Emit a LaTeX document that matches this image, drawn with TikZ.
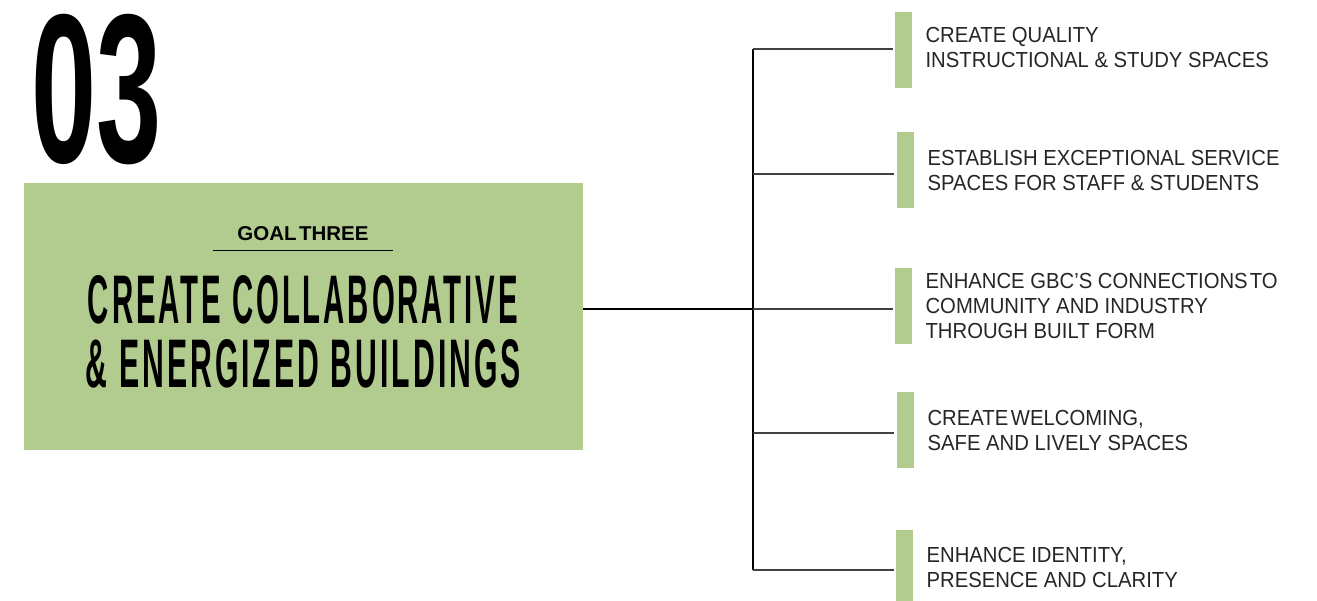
\documentclass[tikz,border=0pt]{standalone}
\usepackage{fontspec}
\setmainfont{Liberation Sans}
\newfontfamily\bodyfont[FakeStretch=0.93]{Liberation Sans}
\newfontfamily\condfont[LetterSpace=10]{Liberation Sans}
\definecolor{sage}{HTML}{B2CB8F}
\definecolor{ink}{HTML}{262626}
\tikzset{
  greenbar/.style={fill=sage, draw=none, minimum width=17, inner sep=0, anchor=north west},
  item/.style={font=\bodyfont\fontsize{21.8}{25}\selectfont, align=left, inner sep=0, text=ink, anchor=west},
  trunkline/.style={draw=black, line width=1.1pt},
  branchline/.style={draw=black!75, line width=1.3pt},
  titleline/.style={inner sep=0, text=black},
}
\begin{document}
\begin{tikzpicture}[x=1pt, y=-1pt]
\useasboundingbox (0,0) rectangle (1317,601);
\fill[white] (0,0) rectangle (1317,601);

% big number
\node[titleline] (num) at (97,90) {\resizebox{130pt}{148pt}{\bfseries 03}};

% goal box
\node[fill=sage, minimum width=559, minimum height=267, inner sep=0, anchor=north west] (goal) at (24,183) {};
\node[titleline] (goalname) at (303,234) {\resizebox{131pt}{14pt}{\bfseries GOAL\hspace{0.12em}THREE}};
\coordinate (ulL) at (213,251);
\coordinate (ulR) at (393,251);
\draw[line width=1pt] (ulL) -- (ulR);
\node[titleline] (l1) at (303,300) {\resizebox{430pt}{48pt}{\condfont\bfseries CREATE COLLABORATIVE}};
\node[titleline] (l2) at (303.5,364) {\resizebox{435pt}{48pt}{\condfont\bfseries \&~ENERGIZED BUILDINGS}};

% bars
\node[greenbar, minimum height=76] (b1) at (895,12) {};
\node[greenbar, minimum height=76] (b2) at (897,132) {};
\node[greenbar, minimum height=76] (b3) at (895,268) {};
\node[greenbar, minimum height=76] (b4) at (897,392) {};
\node[greenbar, minimum height=71] (b5) at (896,530) {};

% items
\node[item] (t1) at ([xshift=13pt, yshift=3pt]b1.east) {CREATE QUALITY\\INSTRUCTIONAL \& STUDY SPACES};
\node[item] (t2) at ([xshift=13pt]b2.east) {ESTABLISH EXCEPTIONAL SERVICE\\SPACES FOR STAFF \& STUDENTS};
\node[item] (t3) at ([xshift=13pt]b3.east) {ENHANCE GBC’S CONNECTIONS\hspace{0.1em}TO\\COMMUNITY AND INDUSTRY\\THROUGH BUILT FORM};
\node[item] (t4) at ([xshift=13pt]b4.east) {CREATE\hspace{0.12em}WELCOMING,\\SAFE AND LIVELY SPACES};
\node[item] (t5) at ([xshift=13pt, yshift=-2pt]b5.east) {ENHANCE IDENTITY,\\PRESENCE AND CLARITY};

% connectors
\coordinate (hub) at (753,309);
\coordinate (j1) at (753,49);
\coordinate (j2) at (753,174);
\coordinate (j3) at (753,309);
\coordinate (j4) at (753,433);
\coordinate (j5) at (753,570);
\draw[trunkline] (hub -| goal.east) -- (hub);
\draw[trunkline] (j1) -- (j5);
\draw[branchline] (j1) -- ([xshift=-2pt]j1 -| b1.west);
\draw[branchline] (j2) -- ([xshift=-3pt]j2 -| b2.west);
\draw[branchline] (j3) -- ([xshift=-2pt]j3 -| b3.west);
\draw[branchline] (j4) -- ([xshift=-3pt]j4 -| b4.west);
\draw[branchline] (j5) -- ([xshift=-2pt]j5 -| b5.west);
\end{tikzpicture}
\end{document}
